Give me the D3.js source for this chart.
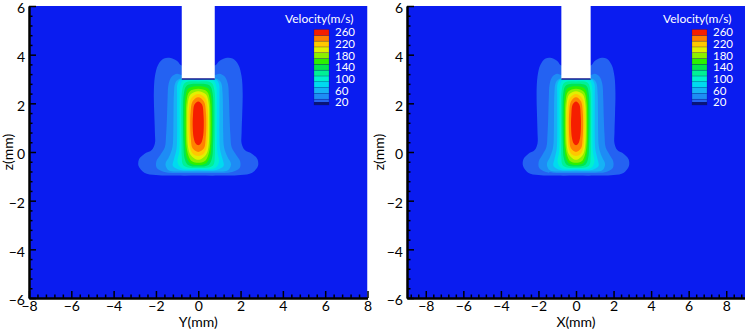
<!DOCTYPE html>
<html>
<head>
<meta charset="utf-8">
<script src="https://cdn.jsdelivr.net/npm/d3@7"></script>
<style>
body { margin: 0; background: #fff; }
svg { display: block; }
text { font-family: Lato, "Liberation Sans", sans-serif; }
</style>
</head>
<body>
<div id="chart"></div>
<script>
// contour levels and colours (m/s)
var levels = [20, 40, 60, 80, 100, 120, 140, 160, 180, 200, 220, 240, 260];
var bandColors = ["#2462f2", "#1e8cf5", "#16b2f5", "#00daf0", "#00f0d0", "#00f096", "#00e650",
	"#2cf000", "#8cf000", "#e2f000", "#ffc800", "#ff8200", "#f51e00"];
var bgColor = "#0a1cf0";
var legendTicks = [20, 60, 100, 140, 180, 220, 260];
var zTicks = [-6, -4, -2, 0, 2, 4, 6];
var hTicks = [-8, -6, -4, -2, 0, 2, 4, 6, 8];

// nozzle (mm)
var nozzleHalf = 0.78, nozzleExit = 3;

// left half of each contour, [horizontal mm, z mm], top centre -> bottom centre
var contour20 = [[0,3.5],[-0.78,3.55],[-1.0,3.74],[-1.3,3.86],[-1.62,3.84],[-1.9,3.58],[-2.05,3.1],[-2.1,2.4],[-2.08,1.6],[-2.05,0.8],[-2.05,0.35],[-2.2,0.08],[-2.55,-0.08],[-2.8,-0.3],[-2.82,-0.58],[-2.55,-0.85],[-2.0,-0.95],[-1.0,-0.97],[0,-0.97]];
var contour40 = [[0,3.1],[-0.78,3.16],[-1.0,3.22],[-1.25,3.1],[-1.4,2.8],[-1.45,2.2],[-1.48,1.4],[-1.52,0.7],[-1.58,0.2],[-1.78,-0.1],[-1.98,-0.38],[-1.96,-0.66],[-1.6,-0.82],[-0.8,-0.86],[0,-0.86]];
var contour60 = [[0,3.0],[-0.9,3.0],[-1.08,2.85],[-1.15,2.4],[-1.17,1.6],[-1.18,0.8],[-1.22,0.2],[-1.38,-0.2],[-1.55,-0.5],[-1.4,-0.75],[-0.8,-0.8],[0,-0.8]];
var contour80 = [[0,2.98],[-0.82,2.98],[-0.98,2.8],[-1.0,2.3],[-1.0,1.5],[-1.0,0.7],[-1.03,0.1],[-1.15,-0.3],[-1.2,-0.58],[-0.85,-0.74],[0,-0.75]];
var contour100 = [[0,2.96],[-0.72,2.94],[-0.85,2.7],[-0.88,2.1],[-0.88,1.3],[-0.88,0.6],[-0.9,0.0],[-0.98,-0.4],[-0.8,-0.66],[0,-0.7]];
var contour120 = [[0,2.9],[-0.62,2.85],[-0.76,2.55],[-0.8,1.9],[-0.8,1.1],[-0.79,0.4],[-0.78,-0.2],[-0.7,-0.55],[0,-0.66]];
var contour140 = [[0,2.8],[-0.55,2.72],[-0.68,2.4],[-0.72,1.7],[-0.72,1.0],[-0.7,0.3],[-0.65,-0.25],[-0.5,-0.52],[0,-0.6]];
var contour160 = [[0,2.7],[-0.48,2.6],[-0.61,2.25],[-0.65,1.6],[-0.65,0.9],[-0.62,0.25],[-0.55,-0.2],[-0.38,-0.46],[0,-0.53]];
var contour180 = [[0,2.6],[-0.42,2.48],[-0.55,2.1],[-0.58,1.5],[-0.58,0.85],[-0.55,0.2],[-0.45,-0.18],[-0.3,-0.38],[0,-0.44]];
var contour200 = [[0,2.5],[-0.37,2.36],[-0.5,1.95],[-0.52,1.35],[-0.52,0.75],[-0.48,0.2],[-0.36,-0.12],[0,-0.32]];
var contour220 = [[0,2.38],[-0.32,2.22],[-0.44,1.8],[-0.46,1.2],[-0.44,0.6],[-0.38,0.15],[-0.25,-0.08],[0,-0.16]];
var contour240 = [[0,2.25],[-0.27,2.08],[-0.36,1.65],[-0.38,1.1],[-0.35,0.55],[-0.27,0.15],[0,0.0]];
var contour260 = [[0,2.08],[-0.18,1.95],[-0.25,1.5],[-0.26,1.0],[-0.22,0.6],[-0.12,0.35],[0,0.28]];
var contours = [contour20, contour40, contour60, contour80, contour100, contour120, contour140,
	contour160, contour180, contour200, contour220, contour240, contour260];

var panels = [
	{left: 29, right: 367.5, domain: [-8, 8], label: "Y(mm)", zLabelX: 8},
	{left: 407, right: 745, domain: [-9, 9], label: "X(mm)", zLabelX: 379}
];
var top_plot = 6, bottom_plot = 298;

var svg = d3.select("#chart").append("svg")
	.attr("width", 745)
	.attr("height", 330);

var color = d3.scaleThreshold().domain(levels).range([bgColor].concat(bandColors));

// mirror the left half to get the closed outline
function outline(half) {
	var other = half.filter(function(p) { return p[0] !== 0; }).reverse()
		.map(function(p) { return [-p[0], p[1]]; });
	return half.concat(other);
}

function minorTicks(lo, hi) {
	var out = [];
	for (var i = Math.round(lo / 0.4); i <= Math.round(hi / 0.4); i++) {
		var v = +(i * 0.4).toFixed(2);
		if (Math.abs(v / 2 - Math.round(v / 2)) > 1e-6) out.push(v);
	}
	return out;
}

panels.forEach(function(p, pi) {
	var xScale = d3.scaleLinear().domain(p.domain).range([p.left, p.right]);
	var yScale = d3.scaleLinear().domain([-6, 6]).range([bottom_plot, top_plot]);

	var clipId = "clip" + pi;
	svg.append("clipPath").attr("id", clipId)
		.append("rect")
		.attr("x", p.left).attr("y", top_plot)
		.attr("width", p.right - p.left).attr("height", bottom_plot - top_plot);

	var field = svg.append("g").attr("clip-path", "url(#" + clipId + ")");
	field.append("rect")
		.attr("x", p.left).attr("y", top_plot)
		.attr("width", p.right - p.left).attr("height", bottom_plot - top_plot)
		.attr("fill", bgColor);

	var line = d3.line()
		.x(function(d) { return xScale(d[0]); })
		.y(function(d) { return yScale(d[1]); })
		.curve(d3.curveCatmullRomClosed.alpha(0.5));

	field.selectAll("path.band")
		.data(contours)
		.enter().append("path")
		.attr("class", "band")
		.attr("d", function(d) { return line(outline(d)); })
		.attr("fill", function(d, i) { return color(levels[i]); });

	// nozzle
	svg.append("rect")
		.attr("x", xScale(-nozzleHalf))
		.attr("y", 0)
		.attr("width", xScale(nozzleHalf) - xScale(-nozzleHalf))
		.attr("height", yScale(nozzleExit))
		.attr("fill", "#fff");
	svg.append("line")
		.attr("x1", xScale(-nozzleHalf)).attr("x2", xScale(nozzleHalf))
		.attr("y1", yScale(nozzleExit)).attr("y2", yScale(nozzleExit))
		.style("stroke", "#1a1a90").style("stroke-width", 1.5);

	// axes
	var xAxis = d3.axisBottom(xScale).tickValues(hTicks).tickSize(-7).tickSizeOuter(0).tickPadding(3)
		.tickFormat(d3.format("d"));
	var xMinor = d3.axisBottom(xScale).tickValues(minorTicks(p.domain[0], p.domain[1])).tickSize(-3.5)
		.tickSizeOuter(0).tickFormat("");
	var yAxis = d3.axisLeft(yScale).tickValues(zTicks).tickSize(-7).tickSizeOuter(0).tickPadding(4)
		.tickFormat(d3.format("d"));
	var yMinor = d3.axisLeft(yScale).tickValues(minorTicks(-6, 6)).tickSize(-3.5)
		.tickSizeOuter(0).tickFormat("");

	[xAxis, xMinor].forEach(function(ax) {
		svg.append("g").attr("class", "axis")
			.attr("transform", "translate(0," + bottom_plot + ")")
			.call(ax);
	});
	[yAxis, yMinor].forEach(function(ax) {
		var g = svg.append("g").attr("class", "axis yaxis")
			.attr("transform", "translate(" + p.left + ",0)")
			.call(ax);
		g.selectAll("text").attr("dy", "0.48em");
	});

	svg.append("text")
		.attr("x", xScale(0)).attr("y", 327)
		.attr("text-anchor", "middle")
		.style("font-size", "14px")
		.text(p.label);
	svg.append("text")
		.attr("transform", "translate(" + p.zLabelX + "," + ((top_plot + bottom_plot) / 2) + ") rotate(-90)")
		.attr("text-anchor", "middle")
		.attr("dy", "0.35em")
		.style("font-size", "14px")
		.text("z(mm)");

	// legend
	var lx = p.left + 285, lw = 15;
	var lScale = d3.scaleLinear().domain([10, 270]).range([105, 29.5]);
	var legend = svg.append("g");
	legend.append("text")
		.attr("x", p.left + 256).attr("y", 23)
		.attr("fill", "#fff")
		.style("font-size", "12px")
		.text("Velocity(m/s)");
	legend.selectAll("rect")
		.data(levels)
		.enter().append("rect")
		.attr("x", lx)
		.attr("y", function(d) { return lScale(d + 10); })
		.attr("width", lw)
		.attr("height", function(d) { return lScale(d - 10) - lScale(d + 10); })
		.attr("fill", function(d) { return color(d); })
		.style("stroke", "rgba(0,0,60,0.35)")
		.style("stroke-width", 0.5);
	legend.append("rect")
		.attr("x", lx).attr("y", lScale(10) - 3)
		.attr("width", lw).attr("height", 3)
		.attr("fill", "#0a1478");
	legend.selectAll("text.lab")
		.data(legendTicks)
		.enter().append("text")
		.attr("class", "lab")
		.attr("x", lx + lw + 6)
		.attr("y", function(d) { return lScale(d); })
		.attr("dy", "0.35em")
		.attr("fill", "#fff")
		.style("font-size", "11.5px")
		.text(function(d) { return d; });
});

svg.selectAll(".axis path.domain").style("stroke", "#000").style("stroke-width", 2);
svg.selectAll(".axis line").style("stroke", "#000").style("stroke-width", 1.5);
svg.selectAll(".axis text").style("font-size", "14px").style("fill", "#000")
	.style("font-family", "Lato, 'Liberation Sans', sans-serif");
</script>
</body>
</html>
